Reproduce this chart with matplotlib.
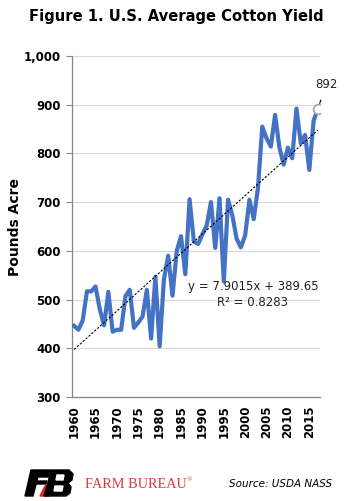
import matplotlib
matplotlib.use("Agg")
import matplotlib.pyplot as plt
from matplotlib.patches import Polygon
import numpy as np

# US average cotton yield, lbs per acre (USDA NASS)
years = list(range(1960, 2018))
yields = [446, 438, 457, 517, 517, 527, 480, 447, 516, 434,
          438, 438, 507, 520, 442, 453, 465, 520, 420, 547,
          404, 542, 590, 508, 600, 630, 552, 706, 619, 614,
          634, 652, 700, 606, 708, 537, 705, 673, 625, 607,
          632, 705, 665, 730, 855, 831, 814, 879, 813, 777,
          812, 790, 892, 821, 838, 766, 867, 892]
trend_slope = 7.9015
trend_icept = 389.65
r_squared = 0.8283
xtick_years = list(range(1960, 2016, 5))
yticks = [300, 400, 500, 600, 700, 800, 900, 1000]

BLUE = "#4472C4"
W, H = 345, 501

fig = plt.figure(figsize=(W / 100, H / 100), dpi=100)
ax = fig.add_axes([72 / W, 1 - 397 / H, 248 / W, 341 / H])

ax.plot(years, yields, color=BLUE, lw=3.0, solid_joinstyle="round", zorder=3)

# linear trend, x = 1..n as in the spreadsheet
idx = np.arange(1, len(years) + 1)
ax.plot(years, trend_slope * idx + trend_icept, color="black",
        lw=0.8, ls=(0, (2, 1.5)), zorder=4)

# last point highlighted
ax.plot(years[-1], yields[-1], "o", ms=7, mfc="white", mec="#A6A6A6",
        mew=1.2, zorder=5)
ax.annotate(str(yields[-1]), xy=(years[-1], yields[-1]),
            xytext=(years[-1] + 2, yields[-1] + 50), ha="center", va="center",
            fontsize=8.5, color="#222222", annotation_clip=False,
            arrowprops=dict(arrowstyle="-", color="black", lw=0.8,
                            shrinkA=5, shrinkB=4))

ax.text(2001.8, 526, f"y = {trend_slope}x + {trend_icept}", ha="center",
        va="center", fontsize=8.5, color="#222222")
ax.text(2001.8, 493, f"R² = {r_squared}", ha="center", va="center",
        fontsize=8.5, color="#222222")

ax.set_xlim(1959.5, 2017.5)
ax.set_ylim(300, 1000)
ax.set_yticks(yticks)
ax.set_yticklabels([f"{v:,}" for v in yticks], fontsize=8.5, fontweight="bold")
ax.set_xticks(xtick_years)
ax.set_xticklabels([str(y) for y in xtick_years], rotation=90,
                   fontsize=8.5, fontweight="bold")
ax.tick_params(axis="x", length=0, pad=6)
ax.tick_params(axis="y", length=4, color="#868686", pad=4)
ax.grid(axis="y", color="#D9D9D9", lw=0.8)
ax.set_axisbelow(True)
for s in ["top", "right"]:
    ax.spines[s].set_visible(False)
for s in ["left", "bottom"]:
    ax.spines[s].set_color("#868686")
    ax.spines[s].set_linewidth(0.9)

fig.text(15 / W, 1 - 227 / H, "Pounds Acre", rotation=90, ha="center",
         va="center", fontsize=10, fontweight="bold")
fig.text(176 / W, 1 - 17 / H, "Figure 1. U.S. Average Cotton Yield",
         ha="center", va="center", fontsize=10.6, fontweight="bold")

# footer: logo, name and source
lax = fig.add_axes([0, 0, 1, 1], zorder=-1)
lax.set_xlim(0, W)
lax.set_ylim(H, 0)
lax.axis("off")
lax.add_patch(Polygon([(31, 470), (50, 470), (48, 477), (38, 477), (33, 496),
                       (25, 496)], color="black"))
lax.add_patch(Polygon([(37, 481), (47, 481), (46, 484), (36, 484)],
                      color="black"))
lax.add_patch(Polygon([(40, 496), (45, 486), (51, 484), (49, 496)],
                      color="#E2231A"))
lax.add_patch(Polygon([(51, 470), (69, 470), (73, 474), (72, 480), (68, 483),
                       (71, 487), (70, 493), (66, 496), (44, 496), (47, 486),
                       (48, 482)], color="black"))
lax.add_patch(Polygon([(57, 475), (64, 475), (63, 480), (56, 480)],
                      color="white"))
lax.add_patch(Polygon([(55, 486), (63, 486), (62, 491), (54, 491)],
                      color="white"))
lax.text(85, 484, "FARM BUREAU", ha="left", va="center",
         fontsize=10.3, color="#E03A3E", family="Liberation Serif")
lax.text(187, 480, "®", ha="left", va="center",
         fontsize=5, color="#E03A3E", family="Liberation Serif")
lax.text(229, 484, "Source: USDA NASS", ha="left", va="center",
         fontsize=7.5, style="italic", color="black")

fig.savefig("out.png", dpi=100)
